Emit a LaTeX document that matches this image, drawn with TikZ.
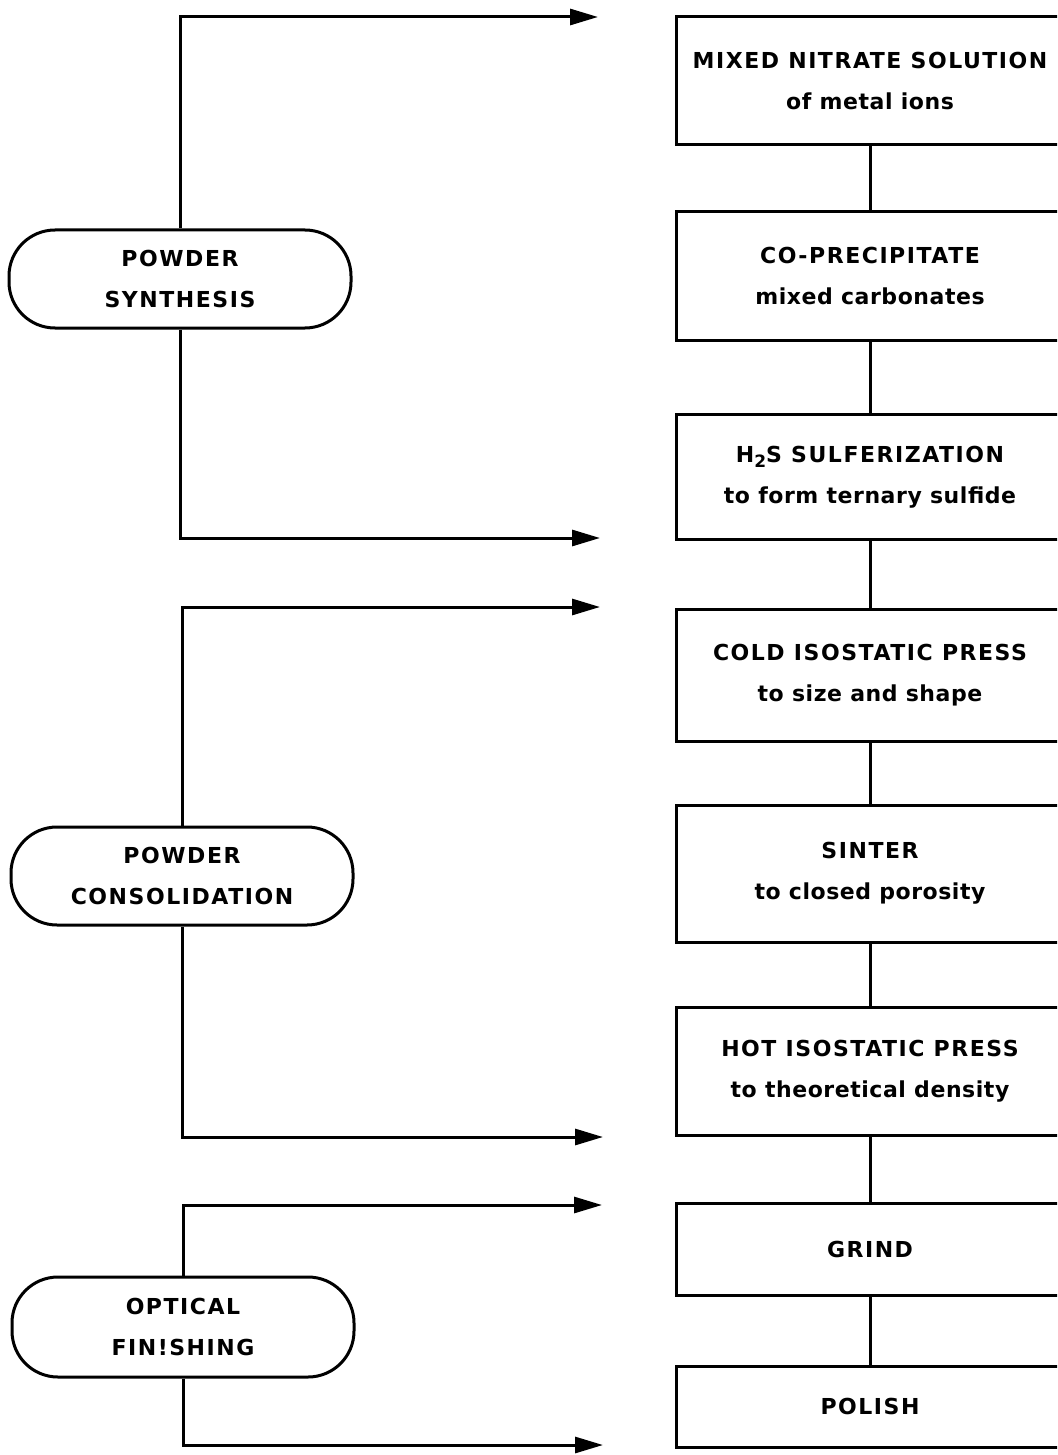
\documentclass[tikz,border=0pt]{standalone}
\usepackage{fontspec}
\usetikzlibrary{arrows.meta}
\newfontfamily\capfont{DejaVu Sans}[LetterSpace=7]
\newfontfamily\lowfont{DejaVu Sans}[LetterSpace=2.5]
\newcommand{\labsize}{\capfont\bfseries\fontsize{11}{20.5}\selectfont}
\newcommand{\lc}[1]{{\lowfont\bfseries #1}}
\begin{document}
\begin{tikzpicture}[x=0.5pt,y=-0.5pt,
  stepbox/.style={draw, line width=1.5pt, minimum width=194pt, align=center, inner sep=0pt, font=\labsize},
  stage/.style={draw, line width=1.5pt, rounded corners=23pt, minimum width=171pt, minimum height=49pt, align=center, inner sep=0pt, font=\labsize},
  flow/.style={line width=1.5pt, -{Triangle[length=14pt,width=8pt]}},
  link/.style={line width=1.5pt}]
\useasboundingbox (0,0) rectangle (1057,1455);
\clip (0,0) rectangle (1057,1455);
\fill[white] (0,0) rectangle (1057,1455);

% process boxes
\node[stepbox, minimum height=64pt]   (b1) at (870,81)     {MIXED NITRATE SOLUTION\\\lc{of metal ions}};
\node[stepbox, minimum height=64.5pt] (b2) at (870,276)    {CO-PRECIPITATE\\\lc{mixed carbonates}};
\node[stepbox, minimum height=62.5pt] (b3) at (870,477)    {H\raisebox{-0.45ex}{\fontsize{8.5}{8.5}\selectfont 2}S SULFERIZATION\\\lc{to form ternary sulfide}};
\node[stepbox, minimum height=66pt]   (b4) at (870,675)    {COLD ISOSTATIC PRESS\\\lc{to size and shape}};
\node[stepbox, minimum height=68.5pt] (b5) at (870,873.5)  {SINTER\\\lc{to closed porosity}};
\node[stepbox, minimum height=64pt]   (b6) at (870,1071)   {HOT ISOSTATIC PRESS\\\lc{to theoretical density}};
\node[stepbox, minimum height=46pt]   (b7) at (870,1249)   {GRIND};
\node[stepbox, minimum height=40.5pt] (b8) at (870,1406.5) {POLISH};

\draw[link] (b1.south) -- (b2.north);
\draw[link] (b2.south) -- (b3.north);
\draw[link] (b3.south) -- (b4.north);
\draw[link] (b4.south) -- (b5.north);
\draw[link] (b5.south) -- (b6.north);
\draw[link] (b6.south) -- (b7.north);
\draw[link] (b7.south) -- (b8.north);

% stages
\node[stage] (s1) at (180,279)  {POWDER\\SYNTHESIS};
\node[stage] (s2) at (182,876)  {POWDER\\CONSOLIDATION};
\node[stage, minimum height=50pt] (s3) at (183,1327) {OPTICAL\\FIN!SHING};

\coordinate (t1) at (598,17);
\coordinate (t2) at (600,538);
\coordinate (t3) at (600,607);
\coordinate (t4) at (603,1137);
\coordinate (t5) at (602,1205);
\coordinate (t6) at (603,1445);

\draw[flow] (s1.north) |- (t1);
\draw[flow] (s1.south) |- (t2);
\draw[flow] (s2.north) |- (t3);
\draw[flow] (s2.south) |- (t4);
\draw[flow] (s3.north) |- (t5);
\draw[flow] (s3.south) |- (t6);
\end{tikzpicture}
\end{document}
